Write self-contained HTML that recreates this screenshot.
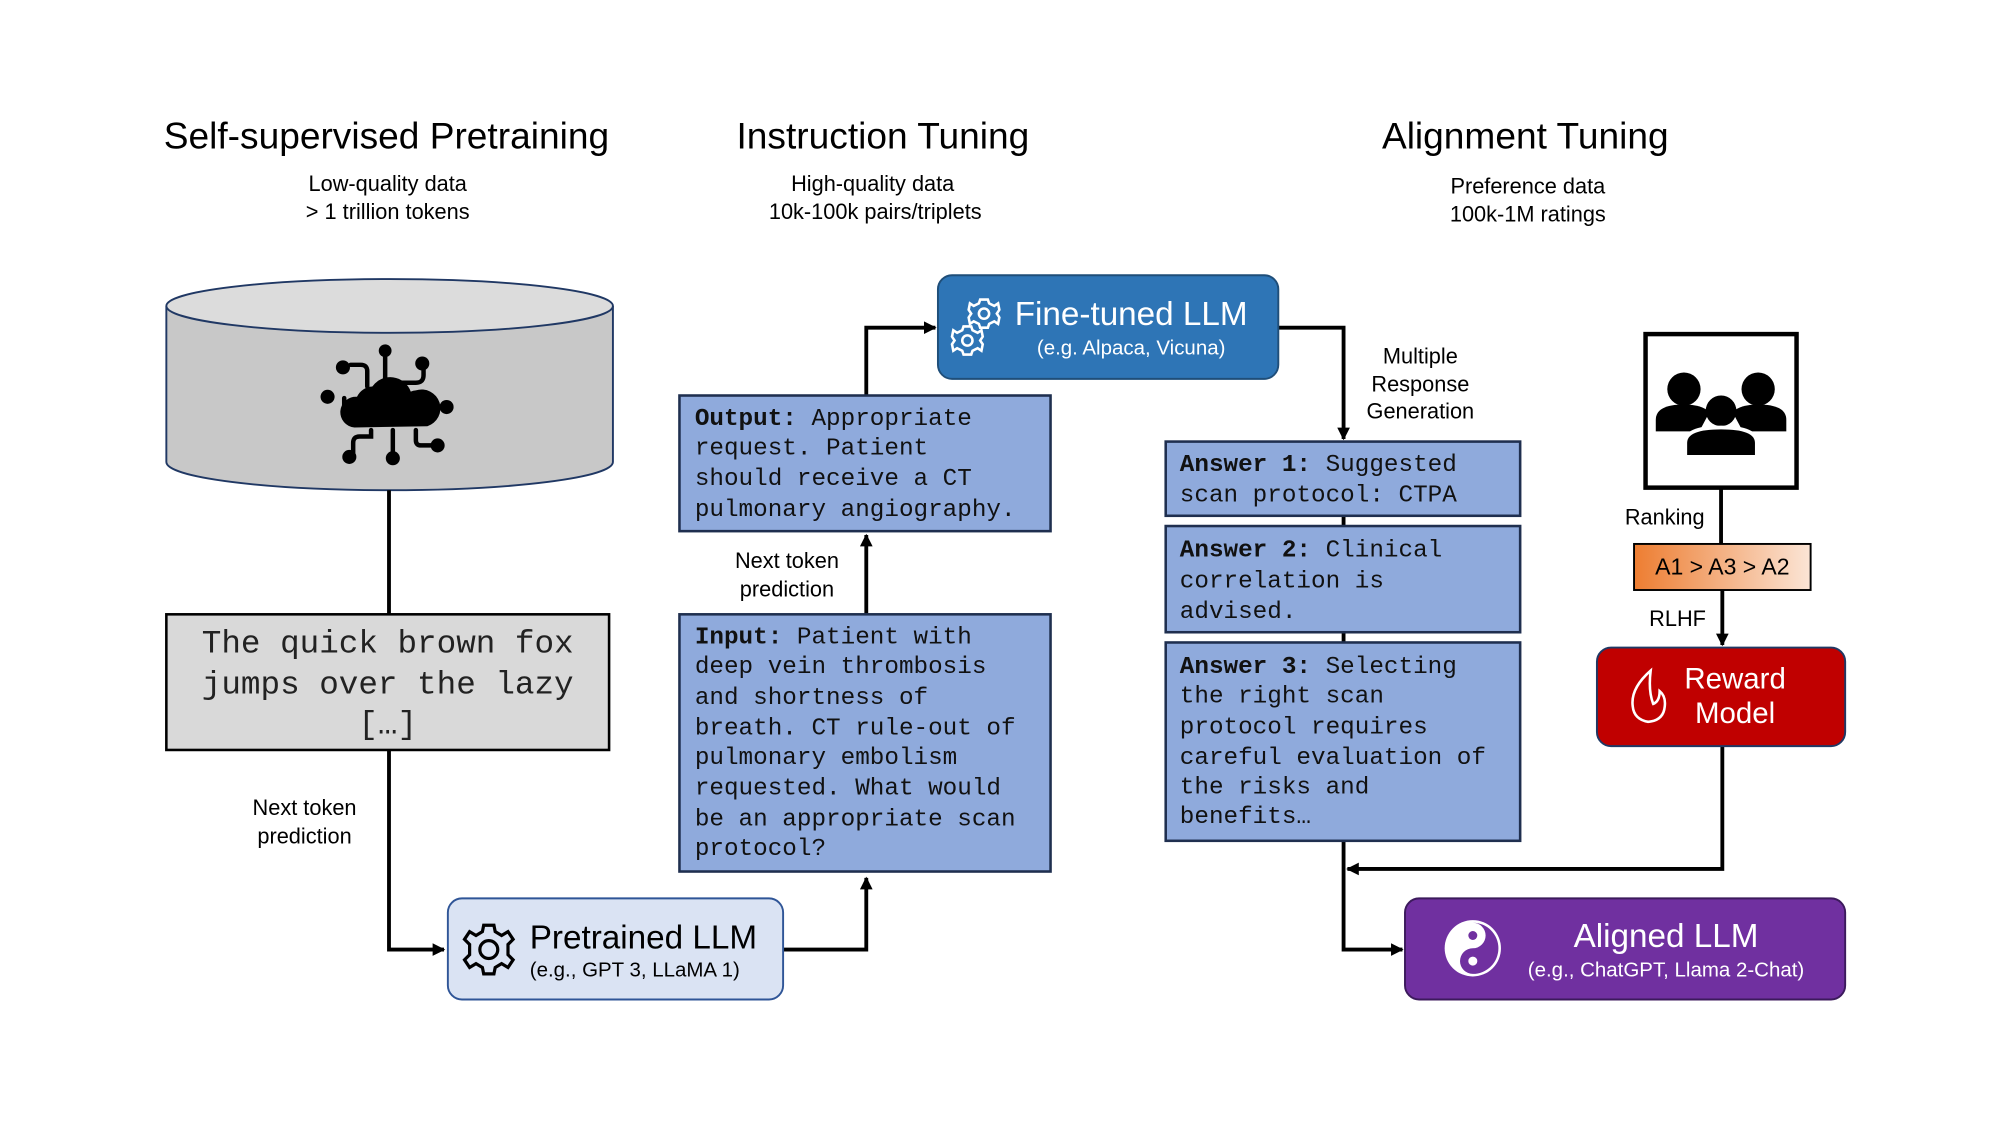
<!DOCTYPE html>
<html><head><meta charset="utf-8"><style>html,body{margin:0;padding:0;background:#fff}svg{display:block}</style></head>
<body>
<svg width="2000" height="1125" viewBox="0 0 1563 879" xmlns="http://www.w3.org/2000/svg" font-family="'Liberation Sans', sans-serif">
<defs>
<marker id="ar" viewBox="0 0 10 10" refX="9" refY="5" markerWidth="3.3" markerHeight="3.3" orient="auto" markerUnits="strokeWidth"><path d="M0,0 L10,5 L0,10 z" fill="#000"/></marker>
<linearGradient id="og" x1="0" x2="1"><stop offset="0" stop-color="#ed7d31"/><stop offset="1" stop-color="#fbe5d6"/></linearGradient>
</defs>
<rect width="1563" height="879" fill="#fff"/>
<!-- titles -->
<g font-size="29" text-anchor="middle" fill="#000">
<text x="302" y="116">Self-supervised Pretraining</text>
<text x="690" y="116">Instruction Tuning</text>
<text x="1192" y="116">Alignment Tuning</text>
</g>
<g font-size="17" text-anchor="middle">
<text x="303" y="149">Low-quality data</text><text x="303" y="171">&gt; 1 trillion tokens</text>
<text x="682" y="149">High-quality data</text><text x="684" y="171">10k-100k pairs/triplets</text>
<text x="1194" y="151">Preference data</text><text x="1194" y="173">100k-1M ratings</text>
</g>
<!-- cylinder -->
<path d="M130,239 L130,361 A174.5,22 0 0 0 479,361 L479,239" fill="#c8c8c8" stroke="#203864" stroke-width="1.5"/>
<ellipse cx="304.5" cy="239" rx="174.5" ry="21" fill="#dcdcdc" stroke="#203864" stroke-width="1.5"/>
<!-- cloud icon -->
<g stroke="#000" stroke-width="3.5" fill="none" stroke-linecap="round">
<path d="M301,296 V276"/><path d="M287,302 V290 q0,-5 -5,-5 h-8"/><path d="M315,304 v-5 h10 q6,0 6,-6 v-9"/>
<path d="M329,318 h17"/><path d="M283,323 h-10 q-4,0 -4,-4 v-8"/><path d="M290,336 v5 h-9 q-5,0 -5,5 v9"/>
<path d="M307,336 v21"/><path d="M325,336 v8 q0,4 4,4 h10"/>
</g>
<g fill="#000">
<circle cx="301" cy="274" r="5"/><circle cx="268" cy="287" r="5.5"/><circle cx="330" cy="284" r="5.5"/><circle cx="349" cy="318" r="5.5"/>
<circle cx="256" cy="310" r="5.5"/><circle cx="273" cy="357" r="5.5"/><circle cx="307" cy="358" r="5.5"/><circle cx="342" cy="348" r="5.5"/>
<path d="M277,334 a12,12 0 0 1 2,-24 a14,14 0 0 1 12,-8 a17,17 0 0 1 30,4 a12,12 0 0 1 4,-1 a14,14 0 0 1 9,28 z"/>
</g>
<!-- lines -->
<g stroke="#000" stroke-width="3" fill="none">
<path d="M304,383 V480"/>
<path d="M304,586 V742 H347" marker-end="url(#ar)"/>
<path d="M612,742 H677 V686" marker-end="url(#ar)"/>
<path d="M677,480 V418" marker-end="url(#ar)"/>
<path d="M677,309 V256 H731" marker-end="url(#ar)"/>
<path d="M999,256 H1050 V343" marker-end="url(#ar)"/>
<path d="M1050,403 V411 M1050,494 V502"/>
<path d="M1050,657 V742 H1096" marker-end="url(#ar)"/>
<path d="M1346,583 V679 H1053" marker-end="url(#ar)"/>
<path d="M1345,381 V425"/>
<path d="M1346,461 V504" marker-end="url(#ar)"/>
</g>
<!-- gray text box -->
<rect x="130" y="480" width="346" height="106" fill="#d9d9d9" stroke="#000" stroke-width="2"/>
<g font-family="'Liberation Mono', monospace" font-size="25.5" text-anchor="middle" fill="#222">
<text x="303" y="510">The quick brown fox</text><text x="303" y="542">jumps over the lazy</text><text x="303" y="573">[…]</text>
</g>
<g font-size="17" text-anchor="middle">
<text x="238" y="637">Next token</text><text x="238" y="659">prediction</text>
<text x="615" y="444">Next token</text><text x="615" y="466">prediction</text>
<text x="1110" y="284">Multiple</text><text x="1110" y="306">Response</text><text x="1110" y="327">Generation</text>
<text x="1301" y="410">Ranking</text><text x="1311" y="489">RLHF</text>
</g>
<!-- blue boxes -->
<g fill="#8faadc" stroke="#1f2f4f" stroke-width="2">
<rect x="531" y="309" width="290" height="106"/>
<rect x="531" y="480" width="290" height="201"/>
<rect x="911" y="345" width="277" height="58"/>
<rect x="911" y="411" width="277" height="83"/>
<rect x="911" y="502" width="277" height="155"/>
</g>
<g font-family="'Liberation Mono', monospace" font-size="19" fill="#111">
<text x="543" y="332"><tspan font-weight="bold">Output:</tspan> Appropriate</text>
<text x="543" y="355">request. Patient</text><text x="543" y="379">should receive a CT</text><text x="543" y="403">pulmonary angiography.</text>
<text x="543" y="503"><tspan font-weight="bold">Input:</tspan> Patient with</text>
<text x="543" y="526">deep vein thrombosis</text><text x="543" y="550">and shortness of</text><text x="543" y="574">breath. CT rule-out of</text>
<text x="543" y="597">pulmonary embolism</text><text x="543" y="621">requested. What would</text><text x="543" y="645">be an appropriate scan</text><text x="543" y="668">protocol?</text>
<text x="922" y="368"><tspan font-weight="bold">Answer 1:</tspan> Suggested</text><text x="922" y="392">scan protocol: CTPA</text>
<text x="922" y="435"><tspan font-weight="bold">Answer 2:</tspan> Clinical</text><text x="922" y="459">correlation is</text><text x="922" y="483">advised.</text>
<text x="922" y="526"><tspan font-weight="bold">Answer 3:</tspan> Selecting</text><text x="922" y="549">the right scan</text><text x="922" y="573">protocol requires</text>
<text x="922" y="597">careful evaluation of</text><text x="922" y="620">the risks and</text><text x="922" y="643">benefits…</text>
</g>
<!-- Pretrained LLM -->
<rect x="350" y="702" width="262" height="79" rx="11" fill="#dae3f3" stroke="#2f5597" stroke-width="1.5"/>
<g transform="translate(382,742)" fill="none" stroke="#000" stroke-width="2.5">
<circle r="7"/><path d="M-4,-19 L4,-19 L5,-14 L10,-11 L15,-14 L19,-8 L15,-4 L15,4 L19,8 L15,14 L10,11 L5,14 L4,19 L-4,19 L-5,14 L-10,11 L-15,14 L-19,8 L-15,4 L-15,-4 L-19,-8 L-15,-14 L-10,-11 L-5,-14 Z"/>
</g>
<text x="414" y="741" font-size="26">Pretrained LLM</text>
<text x="414" y="763" font-size="16">(e.g., GPT 3, LLaMA 1)</text>
<!-- Fine-tuned LLM -->
<rect x="733" y="215" width="266" height="81" rx="11" fill="#2e75b6" stroke="#1f4e79" stroke-width="1.5"/>
<g fill="none" stroke="#fff" stroke-width="2">
<g transform="translate(769,245)"><circle r="4"/><path d="M-3,-11 L3,-11 L4,-8 L8,-6 L11,-8 L12,-3 L10,0 L12,3 L11,8 L8,6 L4,8 L3,11 L-3,11 L-4,8 L-8,6 L-11,8 L-12,3 L-10,0 L-12,-3 L-11,-8 L-8,-6 L-4,-8 Z"/></g>
<g transform="translate(756,266)"><circle r="4"/><path d="M-3,-11 L3,-11 L4,-8 L8,-6 L11,-8 L12,-3 L10,0 L12,3 L11,8 L8,6 L4,8 L3,11 L-3,11 L-4,8 L-8,6 L-11,8 L-12,3 L-10,0 L-12,-3 L-11,-8 L-8,-6 L-4,-8 Z"/></g>
</g>
<text x="884" y="254" font-size="26" fill="#fff" text-anchor="middle">Fine-tuned LLM</text>
<text x="884" y="277" font-size="16" fill="#fff" text-anchor="middle">(e.g. Alpaca, Vicuna)</text>
<!-- people box -->
<rect x="1286" y="261" width="118" height="120" fill="#fff" stroke="#000" stroke-width="3.5"/>
<g fill="#000">
<circle cx="1316" cy="304" r="13"/><circle cx="1374" cy="304" r="13"/>
<path d="M1294,337 v-9 q0,-12 22,-12 q14,0 20,6 l-8,15 z"/><path d="M1396,337 v-9 q0,-12 -22,-12 q-14,0 -20,6 l8,15 z"/>
<circle cx="1345" cy="321" r="12"/><path d="M1317,357 v-11 q0,-12 28,-12 q28,0 28,12 v11 z" stroke="#fff" stroke-width="3"/>
</g>
<!-- ranking -->
<rect x="1277" y="425" width="138" height="36" fill="url(#og)" stroke="#000" stroke-width="1.5"/>
<text x="1346" y="449" font-size="18" text-anchor="middle">A1 &gt; A3 &gt; A2</text>
<!-- reward model -->
<rect x="1248" y="506" width="194" height="77" rx="11" fill="#c00000" stroke="#1f3864" stroke-width="1.5"/>
<path d="M1290,524 q-16,14 -14,28 q1,10 12,12 q12,-1 13,-12 q1,-8 -4,-12 q0,8 -5,10 q-4,-10 -2,-26 z" fill="none" stroke="#fff" stroke-width="2"/>
<text x="1356" y="538" font-size="23" fill="#fff" text-anchor="middle">Reward</text>
<text x="1356" y="565" font-size="23" fill="#fff" text-anchor="middle">Model</text>
<!-- aligned LLM -->
<rect x="1098" y="702" width="344" height="79" rx="11" fill="#7030a0" stroke="#3c1a5c" stroke-width="1.5"/>
<g transform="translate(1151,741)">
<circle r="22" fill="#fff"/>
<path d="M0,-20 A20,20 0 0 1 0,20 A10,10 0 0 1 0,0 A10,10 0 0 0 0,-20 z" fill="#7030a0"/>
<circle cy="-10" r="3.5" fill="#7030a0"/><circle cy="10" r="3.5" fill="#fff"/>
</g>
<text x="1302" y="740" font-size="26" fill="#fff" text-anchor="middle">Aligned LLM</text>
<text x="1302" y="763" font-size="16" fill="#fff" text-anchor="middle">(e.g., ChatGPT, Llama 2-Chat)</text>
</svg>
</body></html>
